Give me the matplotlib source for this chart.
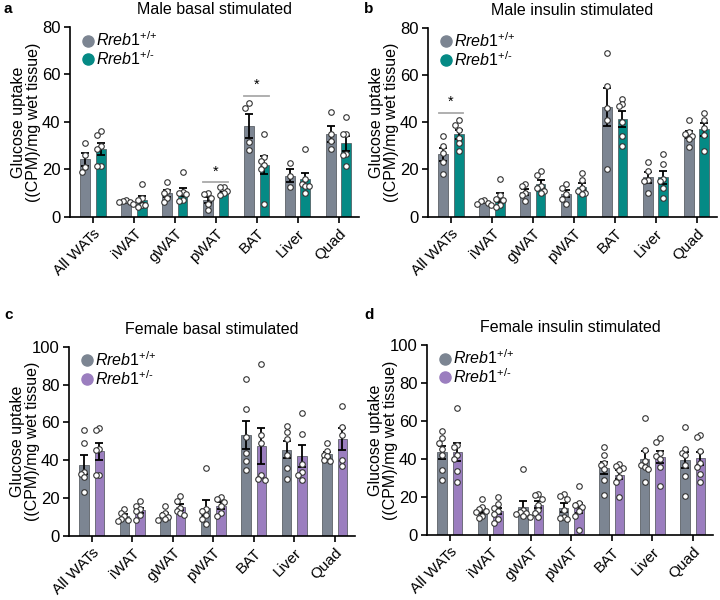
import numpy as np
import matplotlib
matplotlib.use('Agg')
import matplotlib.pyplot as plt
from matplotlib.lines import Line2D

plt.rcParams['font.family'] = ['Liberation Sans', 'DejaVu Sans']
plt.rcParams['mathtext.fontset'] = 'custom'
plt.rcParams['mathtext.it'] = 'Liberation Sans:italic'
plt.rcParams['mathtext.rm'] = 'Liberation Sans'

tissues = ['All WATs', 'iWAT', 'gWAT', 'pWAT', 'BAT', 'Liver', 'Quad']
wt_label = r'$\mathit{Rreb1}^{\text{+/+}}$'
het_label = r'$\mathit{Rreb1}^{\text{+/-}}$'

# ---- Panel a: Male basal stimulated ----
a_wt = [[31, 26, 21, 19], [7, 6.5, 6.2, 6, 5.5], [14.5, 11, 10, 8, 6],
        [10, 9.5, 8, 5.5, 3], [48, 46, 31.5, 28], [22.5, 17, 12.5],
        [44, 35, 32, 28.5]]
a_het = [[36, 34.5, 30, 28.5, 21.5, 21.5], [14, 8, 7, 5, 5, 4],
         [19, 10.5, 10, 9.5, 7, 6.5], [12.5, 12.5, 11, 10, 9],
         [35, 25, 23.5, 22, 20, 5.5], [28.5, 16, 14, 13, 13, 10],
         [42, 35, 35, 26.5, 26, 21.5]]
a_sig = [(3, 14.5), (4, 51)]

# ---- Panel b: Male insulin stimulated ----
b_wt = [[34, 30, 27, 23, 18], [7, 6.5, 6, 5.5, 5], [14, 13, 10, 9, 6.5],
        [14, 12, 9.5, 7.5, 5.5], [69.5, 55.5, 46, 41, 20],
        [23, 19.5, 15.5, 15, 10], [41, 36, 35, 34, 33, 29.5]]
b_het = [[41, 39, 36.5, 33.5, 31, 28], [16, 9, 7.5, 7, 5, 4],
         [19.5, 17.5, 13, 12, 11, 10], [18.5, 15.5, 12, 11, 10, 9.5],
         [50, 47.5, 47, 40, 34, 30], [26.5, 22.5, 16, 15, 12, 8],
         [44, 41, 37.5, 34.5, 28]]
b_sig = [(0, 44)]

# ---- Panel c: Female basal stimulated ----
c_wt = [[56, 49, 34, 33, 31, 23.5], [14.5, 12, 10.5, 9, 8.5, 8],
        [16, 12, 11, 10, 9, 8.5], [36, 14, 13, 11, 9, 6.5],
        [83, 67, 52.5, 44, 39.5, 35], [58, 55, 51, 43, 36, 30],
        [49, 45, 43, 42, 40, 39.5]]
c_het = [[57, 56, 46, 45.5, 32, 32], [18.5, 16, 14.5, 13, 11, 8.5],
         [21, 18.5, 15, 13, 12, 11], [20.5, 19.5, 18, 16, 12, 10.5],
         [91, 53.5, 49, 32, 30, 29.5], [65, 54, 38, 34, 32, 29.5],
         [68.5, 57.5, 53.5, 40, 37]]

# ---- Panel d: Female insulin stimulated ----
d_wt = [[55, 51, 48.5, 45.5, 42, 34, 29], [19, 14.5, 13.5, 12.5, 12, 10, 9],
        [35, 13, 12, 11.5, 11, 10, 9.5], [21.5, 20.5, 19, 13, 9.5, 9, 8.5],
        [46.5, 42, 38, 37, 35, 29, 21], [61.5, 44.5, 39, 37, 36, 34.5, 28],
        [57, 45.5, 43, 42, 37, 31, 20.5]]
d_het = [[67, 47.5, 46.5, 42, 40, 33.5, 28], [20, 16.5, 14, 12.5, 11, 8.5, 6.5],
         [21.5, 21, 19, 16, 13, 11.5, 9.5], [26, 17, 16, 15, 12.5, 10, 2.5],
         [37.5, 36.5, 35.5, 34, 30.5, 28, 20], [51, 49, 43, 41.5, 40, 36, 26],
         [52.5, 51.5, 44, 38, 36, 32, 28]]

titles = ['Male basal stimulated', 'Male insulin stimulated',
          'Female basal stimulated', 'Female insulin stimulated']
letters = ['a', 'b', 'c', 'd']

GRAY = '#7c8592'
TEAL = '#058a85'
PURPLE = '#9b7ebf'

W, H = 720, 600
fig = plt.figure(figsize=(7.2, 6.0), dpi=100)


def px_axes(l, r, b, t):
    return fig.add_axes([l / W, 1 - b / H, (r - l) / W, (b - t) / H])


def swarm_offsets(vals, dy, dx):
    placed, offs = [], []
    for v in vals:
        x = 0.0
        for k in [0, -1, 1, -2, 2]:
            x = k * dx
            if all(abs(v - pv) >= dy or abs(x - px) >= dx * 0.99 for pv, px in placed):
                break
        placed.append((v, x))
        offs.append(x)
    return offs


def panel(ax, wt, het, color, ymax, ystep, title, sig=()):
    n = len(tissues)
    x = np.arange(n)
    off, bw = 0.19, 0.24
    ax.set_xlim(-0.56, n - 1 + 0.5)
    ax.set_ylim(0, ymax)
    px_per_unit = ax.get_window_extent().height / ymax
    dy = 5.0 / px_per_unit
    for grp, c, sgn in [(wt, GRAY, -1), (het, color, 1)]:
        means = np.array([np.mean(g) for g in grp])
        sems = np.array([np.std(g, ddof=1) / np.sqrt(len(g)) for g in grp])
        xs = x + sgn * off
        ax.bar(xs, means, width=bw, color=c, edgecolor='#4a4f55', linewidth=0.5, zorder=1)
        ax.errorbar(xs, means, yerr=sems, fmt='none', ecolor='black', elinewidth=1.3,
                    capsize=3, capthick=1.3, zorder=2)
        for xi, g in zip(xs, grp):
            offs = swarm_offsets(g, dy, 0.085)
            ax.plot(xi + np.array(offs), g, 'o', ms=4, mfc='white', mec='#333333',
                    mew=0.8, ls='none', zorder=3, clip_on=False)
    for gi, yv in sig:
        ax.plot([gi - 0.3, gi + 0.3], [yv, yv], color='#a9a9a9', lw=1.3, zorder=2)
        ax.text(gi, yv + ymax * 0.02, '*', ha='center', va='bottom', fontsize=10.5)
    ax.spines['top'].set_visible(False)
    ax.spines['right'].set_visible(False)
    ax.spines['left'].set_linewidth(1.2)
    ax.spines['bottom'].set_linewidth(1.2)
    ax.set_yticks(np.arange(0, ymax + 1, ystep))
    ax.set_xticks(x)
    ax.set_xticklabels(tissues, rotation=45, ha='right', rotation_mode='anchor', fontsize=11)
    ax.tick_params(axis='both', width=1.2, length=4, pad=3)
    ax.tick_params(axis='y', labelsize=12)
    ax.set_ylabel('Glucose uptake\n((CPM)/mg wet tissue)', fontsize=11.5, linespacing=1.0)
    ax.yaxis.set_label_coords(-0.1, 0.5)
    ax.set_title(title, fontsize=11.5, pad=9)
    handles = [Line2D([], [], marker='o', ls='none', ms=8, mfc=GRAY, mec=GRAY),
               Line2D([], [], marker='o', ls='none', ms=8, mfc=color, mec=color)]
    ax.legend(handles, [wt_label, het_label], loc='upper left', bbox_to_anchor=(0.0, 1.04),
              frameon=False, fontsize=11.5, handlelength=0.8, handletextpad=0.15,
              labelspacing=0.0, borderaxespad=0.3)


axA = px_axes(70, 359, 216.7, 27)
axB = px_axes(428, 717, 216.7, 27.7)
axC = px_axes(69, 355, 536, 346.7)
axD = px_axes(427, 713, 535, 345)

panel(axA, a_wt, a_het, TEAL, 80, 20, titles[0], a_sig)
panel(axB, b_wt, b_het, TEAL, 80, 20, titles[1], b_sig)
panel(axC, c_wt, c_het, PURPLE, 100, 20, titles[2])
panel(axD, d_wt, d_het, PURPLE, 100, 20, titles[3])

for letter, (xp, yp) in zip(letters, [(4, 9), (364, 9), (4, 315), (364, 315)]):
    fig.text(xp / W, 1 - yp / H, letter, fontsize=11, fontweight='bold', va='center', ha='left')

fig.savefig('out.png', dpi=100)
